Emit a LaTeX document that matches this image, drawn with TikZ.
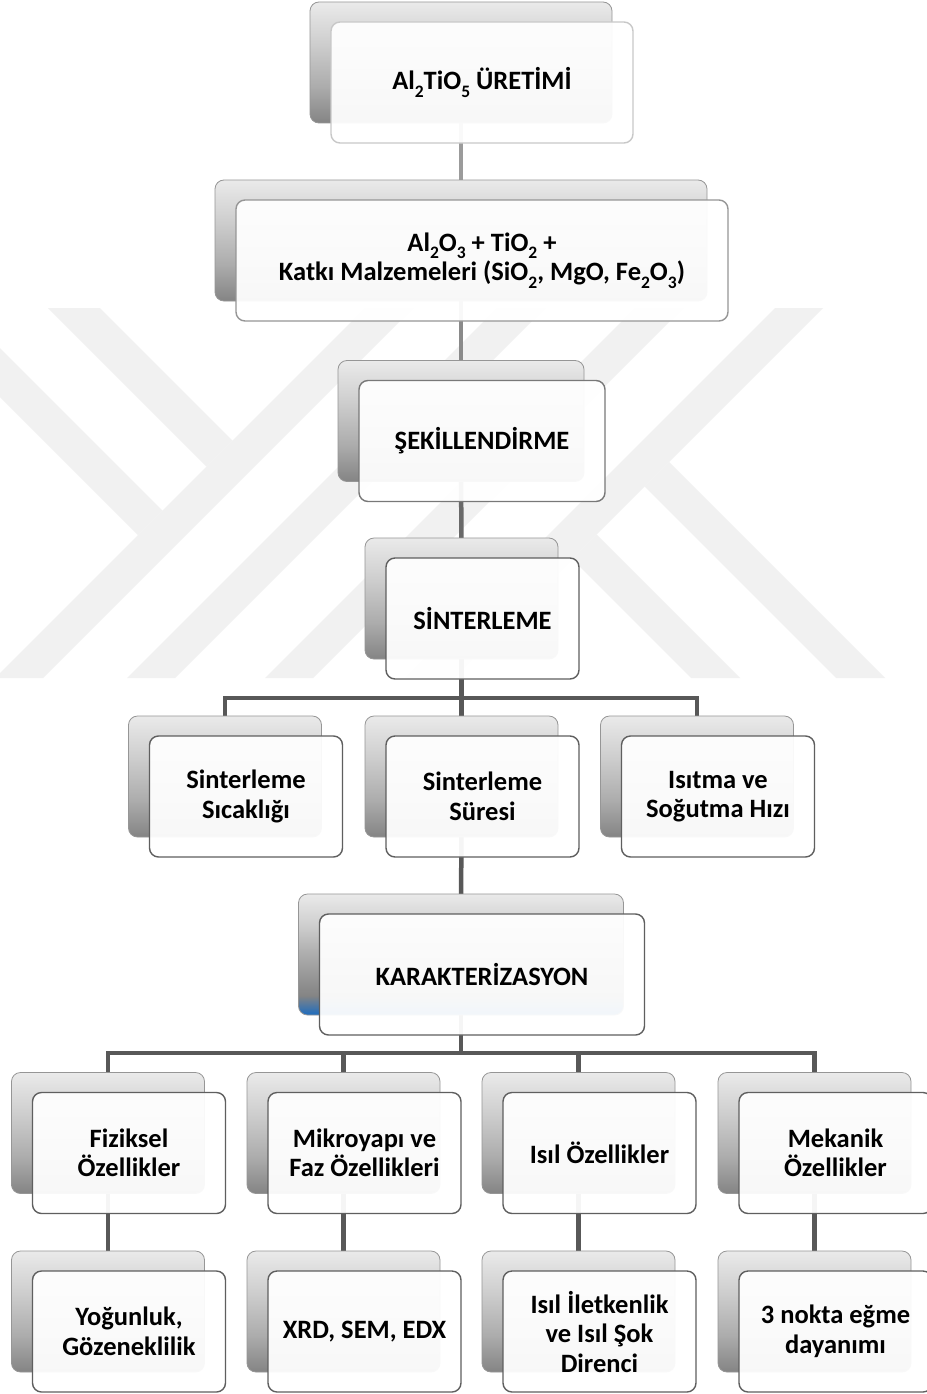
\documentclass[tikz,border=0pt]{standalone}
\usepackage{fontspec}
\setmainfont{Carlito}
\pgfdeclarelayer{wm}
\pgfdeclarelayer{background}
\pgfsetlayers{wm,background,main}

\definecolor{wmc}{RGB}{241,241,241}
\definecolor{shA}{RGB}{132,132,132}
\definecolor{shB}{RGB}{172,172,172}
\definecolor{shC}{RGB}{206,206,206}
\definecolor{shD}{RGB}{234,234,234}
\definecolor{kblue}{RGB}{28,108,192}
\definecolor{bordback}{RGB}{150,150,150}
\definecolor{bordA}{RGB}{200,200,200}
\definecolor{bordB}{RGB}{150,150,150}
\definecolor{bordC}{RGB}{120,120,120}
\definecolor{bordD}{RGB}{95,95,95}
\definecolor{connA}{RGB}{155,155,155}
\definecolor{connB}{RGB}{138,138,138}
\definecolor{connC}{RGB}{105,105,105}
\definecolor{connD}{RGB}{88,88,88}

\pgfdeclareverticalshading{bshade}{100bp}{color(0bp)=(shA); color(25bp)=(shA); color(40bp)=(shB); color(58bp)=(shC); color(75bp)=(shD); color(100bp)=(shD)}
\pgfdeclareverticalshading{kshade}{100bp}{color(0bp)=(kblue); color(25bp)=(kblue); color(33bp)=(shA); color(50bp)=(shB); color(62bp)=(shC); color(75bp)=(shD); color(100bp)=(shD)}

\newcommand{\sbs}[1]{\raisebox{-0.28em}{\fontsize{17.5}{17.5}\selectfont #1}}

\tikzset{
  backbox/.style={draw=bordback, line width=0.8pt, rounded corners=9pt, shading=bshade,
    minimum height=121pt, inner sep=0pt},
  frontbox/.style={draw=bordD, line width=1.4pt, rounded corners=9pt, fill=white,
    fill opacity=0.94, text opacity=1, minimum height=121pt, inner sep=0pt,
    align=center, font=\fontsize{26.5}{29.5}\selectfont\bfseries},
  conn/.style={draw=connD, line width=4.5pt},
  wmband/.style={fill=wmc, draw=none},
}

\begin{document}
\begin{tikzpicture}[x=1pt,y=-1pt]
\useasboundingbox (0,0) rectangle (926,1394);

% watermark
\begin{pgfonlayer}{wm}
\fill[white] (0,0) rectangle (926,1394);
\begin{scope}
\clip (0,308) rectangle (926,678);
\foreach \c in {721,853,991,1131}{
  \fill[wmband] ({\c-48-308},308) -- ({\c-308},308) -- ({\c-678},678) -- ({\c-48-678},678) -- cycle;
}
\fill[wmband] (48,308) -- (100,308) -- (232.5,440.5) -- (206.5,466.5) -- cycle;
\fill[wmband] (0,348) -- (162.5,510.5) -- (138,535) -- (0,397) -- cycle;
\fill[wmband] (669,462) -- (885,678) -- (836,678) -- (644.5,486.5) -- cycle;
\fill[wmband] (596.5,534.5) -- (740,678) -- (691,678) -- (572,559) -- cycle;
\end{scope}
\end{pgfonlayer}

% level 1
\node[backbox, minimum width=302pt] (b1) at (461,62.5) {};
\node[frontbox, draw=bordA, minimum width=302pt] (f1) at (482,82.5) {Al\sbs{2}TiO\sbs{5} ÜRETİMİ};
% level 2
\node[backbox, minimum width=492pt] (b2) at (461,240.5) {};
\node[frontbox, draw=bordB, minimum width=492pt] (f2) at (482,260.5)
  {Al\sbs{2}O\sbs{3} + TiO\sbs{2} +\\ Katkı Malzemeleri (SiO\sbs{2}, MgO, Fe\sbs{2}O\sbs{3})};
% level 3
\node[backbox, minimum width=246pt] (b3) at (461,421) {};
\node[frontbox, draw=bordC, minimum width=246pt] (f3) at (482,441) {ŞEKİLLENDİRME};
% level 4
\node[backbox, minimum width=193pt] (b4) at (461.5,598.5) {};
\node[frontbox, minimum width=193pt] (f4) at (482.5,618.5) {SİNTERLEME};
% sintering parameters
\node[backbox, minimum width=193pt] (s1) at (225,776.5) {};
\node[frontbox, minimum width=193pt] (t1) at (246,796.5) {Sinterleme\\Sıcaklığı};
\node[backbox, minimum width=193pt] (s2) at (461.5,776.5) {};
\node[frontbox, minimum width=193pt] (t2) at (482.5,796.5) {Sinterleme\\Süresi};
\node[backbox, minimum width=193pt] (s3) at (697,776.5) {};
\node[frontbox, minimum width=193pt] (t3) at (718,796.5) {Isıtma ve\\Soğutma Hızı};
% characterisation
\node[backbox, shading=kshade, minimum width=325pt] (k) at (461,954.5) {};
\node[frontbox, minimum width=325pt] (kf) at (482,974.5) {KARAKTERİZASYON};
% properties
\node[backbox, minimum width=193pt] (c1) at (108,1133) {};
\node[frontbox, minimum width=193pt] (p1) at (129,1153) {Fiziksel\\Özellikler};
\node[backbox, minimum width=193pt] (c2) at (343.5,1133) {};
\node[frontbox, minimum width=193pt] (p2) at (364.5,1153) {Mikroyapı ve\\Faz Özellikleri};
\node[backbox, minimum width=193pt] (c3) at (578.5,1133) {};
\node[frontbox, minimum width=193pt] (p3) at (599.5,1153) {Isıl Özellikler};
\node[backbox, minimum width=193pt] (c4) at (814.5,1133) {};
\node[frontbox, minimum width=193pt] (p4) at (835.5,1153) {Mekanik\\Özellikler};
% methods
\node[backbox, minimum width=193pt] (d1) at (108,1311.5) {};
\node[frontbox, minimum width=193pt] (m1) at (129,1331.5) {Yoğunluk,\\Gözeneklilik};
\node[backbox, minimum width=193pt] (d2) at (343.5,1311.5) {};
\node[frontbox, minimum width=193pt] (m2) at (364.5,1331.5) {XRD, SEM, EDX};
\node[backbox, minimum width=193pt] (d3) at (578.5,1311.5) {};
\node[frontbox, minimum width=193pt] (m3) at (599.5,1331.5) {Isıl İletkenlik\\ve Isıl Şok\\Direnci};
\node[backbox, minimum width=193pt] (d4) at (814.5,1311.5) {};
\node[frontbox, minimum width=193pt] (m4) at (835.5,1331.5) {3 nokta eğme\\dayanımı};

% connectors
\begin{pgfonlayer}{background}
\coordinate (j1) at (461.5,698);
\coordinate (j2) at (461,1053);
\draw[conn, draw=connA] (b1.center) -- (b2.center);
\draw[conn, draw=connB] (b2.center) -- (b3.center);
\draw[conn, draw=connC] (b3.center) -- (b4.center);
\draw[conn] (b4.center) -- (s2.center);
\draw[conn] (s1.center) |- (j1) -| (s3.center);
\draw[conn] (s2.center) -- (k.center);
\draw[conn] (c1.center) |- (j2) -| (c4.center);
\draw[conn] (c2.center) |- (j2);
\draw[conn] (c3.center) |- (j2);
\draw[conn] (k.center) -- (j2);
\draw[conn] (c1.center) -- (d1.center);
\draw[conn] (c2.center) -- (d2.center);
\draw[conn] (c3.center) -- (d3.center);
\draw[conn] (c4.center) -- (d4.center);
\end{pgfonlayer}
\end{tikzpicture}
\end{document}
